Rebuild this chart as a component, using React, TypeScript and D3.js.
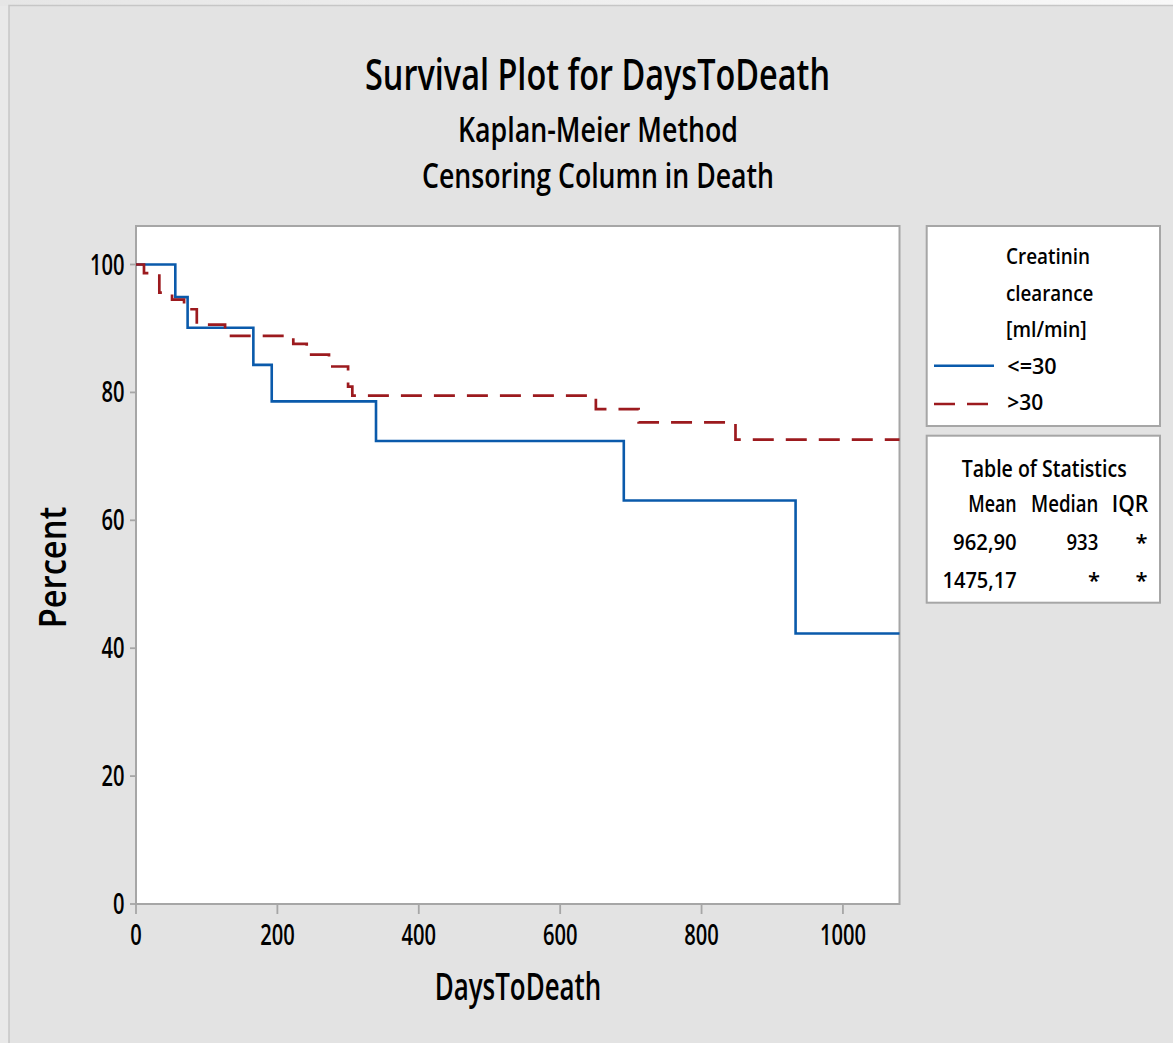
import React from "react";
import * as d3 from "d3";

// ---------- data ----------
const xTicks = [0, 200, 400, 600, 800, 1000];
const yTicks = [0, 20, 40, 60, 80, 100];
const maxDays = 1080;

const groupNames = ["<=30", ">30"];
// Kaplan-Meier steps, group <=30
const lowTimes = [0, 55.6, 73, 166, 192, 339.5, 690, 933];
const lowSurv = [100, 94.9, 90.1, 84.3, 78.6, 72.4, 63.1, 42.3];
// Kaplan-Meier steps, group >30
const highTimes = [0, 11.3, 33, 51, 68, 86, 126, 222.5, 241.5, 273, 300, 306, 650.5, 711, 848];
const highSurv = [100, 98.65, 95.6, 94.5, 93.0, 90.6, 88.85, 87.6, 85.9, 84.05, 80.9, 79.5, 77.4, 75.3, 72.6];

const statHeaders = ["Mean", "Median", "IQR"];
const statMean = ["962,90", "1475,17"];
const statMedian = ["933", "*"];
const statIQR = ["*", "*"];

const legendTitle = ["Creatinin", "clearance", "[ml/min]"];

// ---------- style ----------
const FONT = "'Open Sans', 'Noto Sans', sans-serif";
const BLUE = "#0a5aab";
const RED = "#9c1a1e";
const GRID = "#a6a6a6";
const WEIGHT = 600;

type TP = {
  x: number; y: number; w?: number; size: number;
  anchor?: "start" | "middle" | "end"; rotate?: boolean; children: React.ReactNode;
};
function T({ x, y, w, size, anchor = "start", rotate = false, children }: TP) {
  const common = { fontSize: size, fontFamily: FONT, fill: "#000", fontWeight: WEIGHT };
  if (rotate) {
    return (
      <g transform={`translate(${x},${y}) rotate(-90)`}>
        <text x={w ? -w / 2 : 0} y={0} {...common}
          textAnchor={w ? "start" : "middle"}
          {...(w ? { textLength: w, lengthAdjust: "spacingAndGlyphs" } : {})}>{children}</text>
      </g>
    );
  }
  if (w) {
    const x0 = anchor === "middle" ? x - w / 2 : anchor === "end" ? x - w : x;
    return (
      <text x={x0} y={y} {...common} textLength={w} lengthAdjust="spacingAndGlyphs">{children}</text>
    );
  }
  return <text x={x} y={y} {...common} textAnchor={anchor}>{children}</text>;
}

export default function App() {
  const left = 136, right = 899.5, top = 226, bottom = 904;
  const x = d3.scaleLinear().domain([0, maxDays]).range([left, right]);
  const y = d3.scaleLinear().domain([0, 100]).range([bottom, 264.5]);

  const line = d3.line<[number, number]>()
    .x(d => x(d[0])).y(d => y(d[1])).curve(d3.curveStepAfter);

  const mk = (t: number[], s: number[]): [number, number][] => {
    const pts = t.map((v, i) => [v, s[i]] as [number, number]);
    pts.push([maxDays, s[s.length - 1]]);
    return pts;
  };
  const lowPath = line(mk(lowTimes, lowSurv)) || "";
  const highPath = line(mk(highTimes, highSurv)) || "";

  const DIG = 11.5;
  const legX = 926.7, legW = 233.3;
  const colR = [1016.7, 1098.3, 1148.3];
  const hdrW = [48.4, 67.3, 36.6];

  return (
    <div style={{ position: "absolute", left: 0, top: 0 }}>
      <svg width={1173} height={1043} style={{ display: "block" }}>
        <defs>
          <linearGradient id="topg" x1="0" x2="1" y1="0" y2="0">
            <stop offset="0" stopColor="#e6e6e6" />
            <stop offset="1" stopColor="#f8f8f8" />
          </linearGradient>
        </defs>
        <rect x={0} y={0} width={1173} height={1043} fill="#e9e9e9" />
        <rect x={0} y={0} width={1173} height={6} fill="url(#topg)" />
        <rect x={9} y={5.5} width={1180} height={1050} fill="#e3e3e3" stroke="#c6c6c6" strokeWidth={1.5} />

        {/* titles */}
        <T x={597.5} y={90} w={465} size={44} anchor="middle">Survival Plot for DaysToDeath</T>
        <T x={598} y={141.5} w={280} size={33.6} anchor="middle">Kaplan-Meier Method</T>
        <T x={598} y={187.5} w={352} size={34} anchor="middle">Censoring Column in Death</T>

        {/* plot area */}
        <rect x={left} y={top} width={right - left} height={bottom - top} fill="#fff" stroke={GRID} strokeWidth={2} />

        {/* y ticks */}
        {yTicks.map(t => (
          <g key={"y" + t}>
            <line x1={left - 6} x2={left} y1={y(t)} y2={y(t)} stroke={GRID} strokeWidth={1.8} />
            <T x={124.5} y={y(t) + 10} w={String(t).length * DIG} size={28} anchor="end">{t}</T>
          </g>
        ))}
        {/* x ticks */}
        {xTicks.map(t => (
          <g key={"x" + t}>
            <line x1={x(t)} x2={x(t)} y1={bottom} y2={bottom + 10} stroke={GRID} strokeWidth={1.8} />
            <T x={x(t)} y={945} w={String(t).length * DIG} size={28} anchor="middle">{t}</T>
          </g>
        ))}

        {/* axis labels */}
        <T x={518} y={1000} w={166.7} size={37.4} anchor="middle">DaysToDeath</T>
        <T x={65.5} y={567.5} w={121.7} size={38.4} rotate>Percent</T>

        {/* curves */}
        <path d={lowPath} fill="none" stroke={BLUE} strokeWidth={2.6} />
        <path d={highPath} fill="none" stroke={RED} strokeWidth={2.7} strokeDasharray="21 12" />

        {/* legend */}
        <rect x={legX} y={226} width={legW} height={200} fill="#fff" stroke={GRID} strokeWidth={2} />
        <T x={1006} y={264} w={84} size={22}>{legendTitle[0]}</T>
        <T x={1006} y={300.5} w={87.3} size={22}>{legendTitle[1]}</T>
        <T x={1006} y={337} w={80.7} size={22}>{legendTitle[2]}</T>
        <line x1={934} x2={994} y1={365.7} y2={365.7} stroke={BLUE} strokeWidth={2.6} />
        <T x={1007.3} y={373.5} w={49.4} size={22}>{groupNames[0]}</T>
        <line x1={934} x2={990} y1={404} y2={404} stroke={RED} strokeWidth={2.7} strokeDasharray="21 12" />
        <T x={1007.3} y={410} w={36} size={22}>{groupNames[1]}</T>

        {/* statistics table */}
        <rect x={legX} y={435.7} width={legW} height={167} fill="#fff" stroke={GRID} strokeWidth={2} />
        <T x={961.7} y={476.7} w={165} size={22.5}>Table of Statistics</T>
        {statHeaders.map((h, i) => (
          <T key={h} x={colR[i]} y={511.7} w={hdrW[i]} size={22.5} anchor="end">{h}</T>
        ))}
        {statMean.map((m, r) => {
          const yy = 549.5 + r * 38;
          const cells = [m, statMedian[r], statIQR[r]];
          return (
            <g key={"r" + r}>
              {cells.map((c, i) => (
                <T key={i} x={i === 2 ? 1147.5 : i === 1 && c === "*" ? 1100 : colR[i]} y={yy}
                  w={c === "*" ? undefined : c.length * 10.6} size={22} anchor="end">{c}</T>
              ))}
            </g>
          );
        })}
      </svg>
    </div>
  );
}
